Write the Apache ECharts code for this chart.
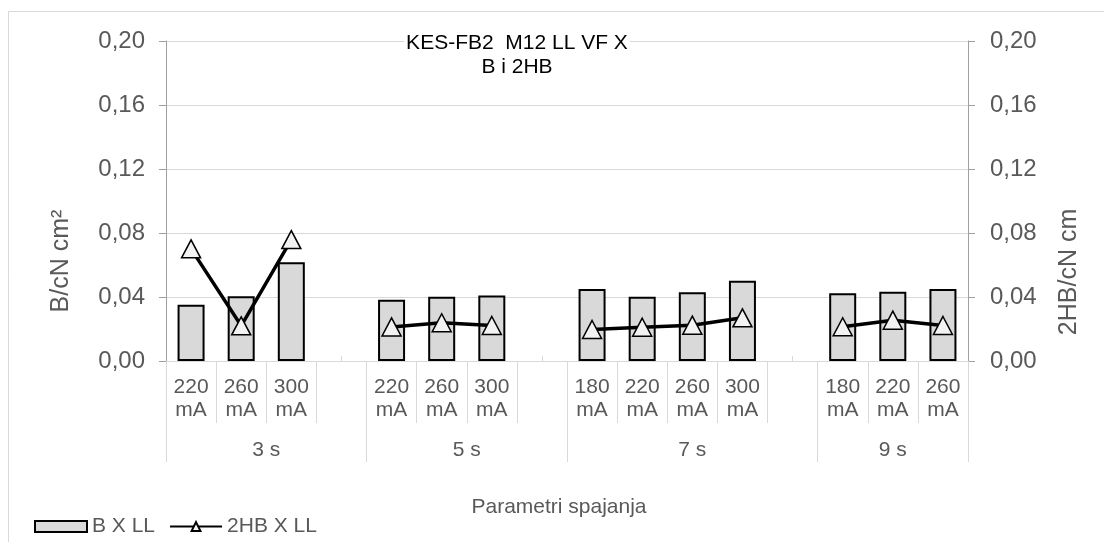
<!DOCTYPE html>
<html><head><meta charset="utf-8">
<script src="https://cdn.jsdelivr.net/npm/echarts@6/dist/echarts.min.js"></script>
<style>html,body{margin:0;padding:0;background:#fff}#c{width:1104px;height:542px}</style>
</head><body><div id="c"></div>
<script>
const groupLabels = ['3 s', '5 s', '7 s', '9 s'];
const currentLabels = [
  ['220 mA', '260 mA', '300 mA'],
  ['220 mA', '260 mA', '300 mA'],
  ['180 mA', '220 mA', '260 mA', '300 mA'],
  ['180 mA', '220 mA', '260 mA']
];
const bValues = [
  [0.0352, 0.0404, 0.0617],
  [0.0383, 0.0402, 0.0410],
  [0.0450, 0.0402, 0.0429, 0.0502],
  [0.0423, 0.0433, 0.0450]
];
const hbValues = [
  [0.0701, 0.0220, 0.0759],
  [0.0213, 0.0239, 0.0222],
  [0.0197, 0.0211, 0.0224, 0.0270],
  [0.0214, 0.0255, 0.0222]
];
const seriesNames = ['B X LL', '2HB X LL'];
const titleLines = ['KES-FB2  M12 LL VF X', 'B i 2HB'];
const xTitle = 'Parametri spajanja';
const yTitleLeft = 'B/cN cm²';
const yTitleRight = '2HB/cN cm';
const yMin = 0, yMax = 0.20, yStep = 0.04;

const FONT = '"Liberation Sans", Arial, sans-serif';
const TXT = '#595959';
const GRID = '#d9d9d9';
const AXIS = '#a0a0a0';

const categories = [], barData = [], lineData = [], groupStarts = [], groupCenters = {};
currentLabels.forEach((g, gi) => {
  const start = categories.length;
  groupStarts.push(start);
  g.forEach((c, i) => {
    categories.push(c.replace(' ', '\n'));
    barData.push(bValues[gi][i]);
    lineData.push(hbValues[gi][i]);
  });
  if (gi < currentLabels.length - 1) { categories.push(''); barData.push(null); lineData.push(null); }
  const end = categories.length;
  groupCenters[String((start + end) / 2)] = groupLabels[gi];
});
const fmtY = v => v.toFixed(2).replace('.', ',');

const chart = echarts.init(document.getElementById('c'), null, {renderer: 'canvas'});
chart.setOption({
  animation: false,
  backgroundColor: '#fff',
  textStyle: {fontFamily: FONT},
  grid: {left: 166, right: 136, top: 41, bottom: 181, containLabel: false},
  legend: {
    data: [{name: seriesNames[0], icon: 'rect'}, {name: seriesNames[1]}],
    left: 34, top: 516, padding: 0,
    itemWidth: 52, itemHeight: 11, itemGap: 14,
    textStyle: {fontSize: 21, color: TXT, fontFamily: FONT}
  },
  xAxis: [
    {
      type: 'category', data: categories, position: 'bottom', boundaryGap: true,
      axisLine: {show: true, lineStyle: {color: GRID, width: 1}},
      axisTick: {show: true, interval: 0, length: 62, lineStyle: {color: GRID}},
      axisLabel: {interval: 0, margin: 15, fontSize: 21, lineHeight: 23, color: TXT, fontFamily: FONT},
      splitLine: {show: false}
    },
    {
      type: 'value', min: 0, max: categories.length, interval: 0.5, position: 'bottom',
      axisLine: {show: false}, axisTick: {show: false}, splitLine: {show: false},
      axisLabel: {
        margin: 79, fontSize: 21, color: TXT, fontFamily: FONT,
        formatter: v => groupCenters[String(Math.round(v * 2) / 2)] || ''
      }
    },
    {
      type: 'category', data: categories, position: 'bottom',
      axisLine: {show: false}, axisLabel: {show: false}, splitLine: {show: false},
      axisTick: {show: true, interval: 0, alignWithLabel: true, inside: true, length: 5, lineStyle: {color: GRID}}
    },
    {
      type: 'category', data: categories, position: 'bottom',
      axisLine: {show: false}, axisLabel: {show: false}, splitLine: {show: false},
      axisTick: {show: true, interval: i => groupStarts.includes(i), length: 101, lineStyle: {color: GRID}}
    }
  ],
  yAxis: [
    {
      type: 'value', position: 'left', min: yMin, max: yMax, interval: yStep,
      axisLine: {show: true, lineStyle: {color: AXIS}},
      axisTick: {show: true, length: 7, lineStyle: {color: AXIS}},
      axisLabel: {margin: 21, fontSize: 24, color: TXT, fontFamily: FONT, formatter: fmtY},
      splitLine: {show: true, lineStyle: {color: GRID, width: 1}}
    },
    {
      type: 'value', position: 'right', min: yMin, max: yMax, interval: yStep,
      axisLine: {show: true, lineStyle: {color: AXIS}},
      axisTick: {show: true, length: 7, lineStyle: {color: AXIS}},
      axisLabel: {margin: 22, fontSize: 24, color: TXT, fontFamily: FONT, formatter: fmtY},
      splitLine: {show: false}
    }
  ],
  series: [
    {
      name: seriesNames[0], type: 'bar', xAxisIndex: 0, yAxisIndex: 0, data: barData,
      barWidth: 27,
      itemStyle: {color: '#d9d9d9', borderColor: '#000', borderWidth: 2}
    },
    {
      name: seriesNames[1], type: 'line', xAxisIndex: 0, yAxisIndex: 1, data: lineData,
      connectNulls: false, symbol: 'triangle', symbolSize: [19, 18], z: 5,
      lineStyle: {color: '#000', width: 3.5},
      itemStyle: {color: '#f2f2f2', borderColor: '#000', borderWidth: 1.5}
    }
  ],
  graphic: [
    {type: 'rect', silent: true, z: -10, shape: {x: 8.5, y: 11.5, width: 1200, height: 600},
     style: {fill: 'none', stroke: GRID, lineWidth: 1}},
    {type: 'text', silent: true, z: 100, x: 517, y: 31,
     style: {text: titleLines.join('\n'), textAlign: 'center', textVerticalAlign: 'top',
             font: '21px ' + FONT, fill: '#000', lineHeight: 24, backgroundColor: '#fff', padding: [0, 2]}},
    {type: 'text', silent: true, x: 559, y: 507,
     style: {text: xTitle, textAlign: 'center', textVerticalAlign: 'middle', font: '21px ' + FONT, fill: TXT}},
    {type: 'text', silent: true, x: 61, y: 261, rotation: Math.PI / 2,
     style: {text: yTitleLeft, textAlign: 'center', textVerticalAlign: 'middle', font: '25px ' + FONT, fill: TXT}},
    {type: 'text', silent: true, x: 1069, y: 272, rotation: Math.PI / 2,
     style: {text: yTitleRight, textAlign: 'center', textVerticalAlign: 'middle', font: '25px ' + FONT, fill: TXT}}
  ]
});
</script></body></html>
